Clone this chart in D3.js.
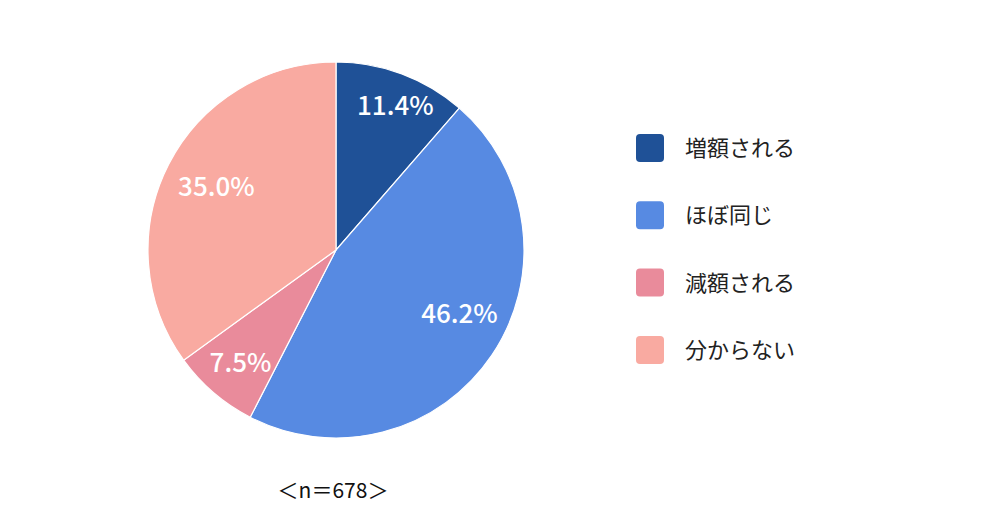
<!DOCTYPE html>
<html>
<head>
<meta charset="utf-8">
<script src="https://cdn.jsdelivr.net/npm/d3@7"></script>
<style>
  body { margin: 0; background: #fff; }
  svg text { font-family: "Noto Sans CJK JP", "Noto Sans", sans-serif; }
</style>
</head>
<body>
<div id="chart"></div>
<script>
const categories = ["増額される", "ほぼ同じ", "減額される", "分からない"];
const values = [11.4, 46.2, 7.5, 35.0];
const colors = ["#1f5197", "#578ae2", "#e98b9b", "#f9aaa1"];
const sampleNote = "＜n＝678＞";

// small hand nudges so labels sit where the original placed them
const labelNudge = [[8, -7], [2, -19], [0, 1], [11, 3]];

const width = 1000, height = 517;
const cx = 336, cy = 250, radius = 188;

const svg = d3.select("#chart")
    .append("svg")
    .attr("width", width)
    .attr("height", height);

const pie = d3.pie().sort(null).value(d => d.value);
const arcs = pie(categories.map((c, i) => ({ name: c, value: values[i] })));

const arc = d3.arc().innerRadius(0).outerRadius(radius);
const labelArc = d3.arc().innerRadius(radius * 0.78).outerRadius(radius * 0.78);

const g = svg.append("g").attr("transform", `translate(${cx},${cy})`);

g.selectAll("path")
    .data(arcs)
    .enter().append("path")
    .attr("d", arc)
    .attr("fill", (d, i) => colors[i])
    .attr("stroke", "#fff")
    .attr("stroke-width", 1.2);

g.selectAll("text.pct")
    .data(arcs)
    .enter().append("text")
    .attr("class", "pct")
    .attr("transform", (d, i) => {
        const [x, y] = labelArc.centroid(d);
        return `translate(${x + labelNudge[i][0]},${y + labelNudge[i][1]})`;
    })
    .attr("text-anchor", "middle")
    .attr("dy", "0.36em")
    .attr("fill", "#fff")
    .style("font-weight", "500")
    .style("font-size", "26px")
    .text(d => d.data.value.toFixed(1) + "%");

// legend
const legend = svg.append("g").attr("transform", "translate(636,134)");
const row = legend.selectAll("g")
    .data(categories)
    .enter().append("g")
    .attr("transform", (d, i) => `translate(0,${i * 67.3})`);

row.append("rect")
    .attr("width", 28)
    .attr("height", 28)
    .attr("rx", 4)
    .attr("fill", (d, i) => colors[i]);

row.append("text")
    .attr("x", 49)
    .attr("y", 14)
    .attr("dy", "0.36em")
    .attr("fill", "#222")
    .style("font-size", "22px")
    .text(d => d);

svg.append("text")
    .attr("x", 333)
    .attr("y", 498)
    .attr("text-anchor", "middle")
    .attr("fill", "#111")
    .style("font-size", "21px")
    .text(sampleNote);
</script>
</body>
</html>
